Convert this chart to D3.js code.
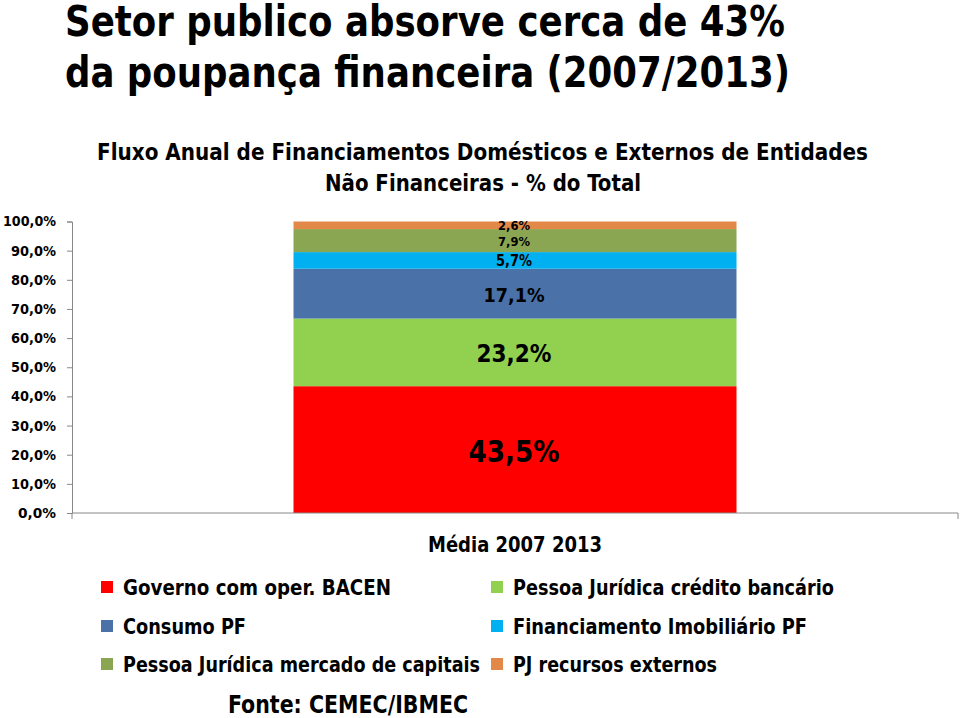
<!DOCTYPE html>
<html><head><meta charset="utf-8">
<script src="https://cdn.jsdelivr.net/npm/d3@7"></script>
<style>
body{margin:0;background:#fff;}
svg text{font-family:"DejaVu Sans Condensed","DejaVu Sans","Liberation Sans",sans-serif;font-weight:bold;fill:#000;}
</style></head>
<body><svg id="c" width="960" height="718"></svg>
<script>
const categories = ["Média 2007 2013"];
const seriesNames = ["Governo com oper. BACEN","Pessoa Jurídica crédito bancário","Consumo PF","Financiamento Imobiliário PF","Pessoa Jurídica mercado de capitais","PJ recursos externos"];
const seriesValues = [43.5, 23.2, 17.1, 5.7, 7.9, 2.6];
const yTicks = [0,10,20,30,40,50,60,70,80,90,100];

const colors = ["#FF0000","#92D050","#4A72A8","#00B0F0","#8BA652","#E2894A"];
const labelSizes = [30, 25, 20, 15, 13, 12];
const labelWidths = [91, 75, 61, 36, 32, 32];
const legendWidths = [268, 321, 123, 294, 357, 204];

// narrow-font fitting (reference uses a condensed face)
function fit(sel, w){ sel.attr("textLength", w).attr("lengthAdjust","spacingAndGlyphs"); return sel; }

const loc = d3.formatLocale({decimal:",",thousands:".",grouping:[3],currency:["R$",""]});
const f1 = loc.format(".1f");

const svg = d3.select("#c");
const x = d3.scaleBand().domain(categories).range([72,958]).paddingInner(0).paddingOuter(0.5);
const y = d3.scaleLinear().domain([0,100]).range([513,221.5]);

// titles
fit(svg.append("text").attr("x",65).attr("y",36).style("font-size","43px").text("Setor publico absorve  cerca de 43%"),720);
fit(svg.append("text").attr("x",65).attr("y",87).style("font-size","43px").text("da poupança financeira (2007/2013)"),725);
fit(svg.append("text").attr("x",97).attr("y",160).style("font-size","23px").text("Fluxo Anual de Financiamentos Domésticos e Externos de Entidades"),771);
fit(svg.append("text").attr("x",325).attr("y",191).style("font-size","23px").text("Não Financeiras - % do Total"),316);

// y axis
const yAxis = d3.axisLeft(y).tickValues(yTicks).tickSize(5).tickFormat(d=>f1(d)+"%");
const gy = svg.append("g").attr("transform","translate(72,0)").call(yAxis);
gy.select(".domain").attr("stroke","#888");
gy.selectAll(".tick line").attr("stroke","#888");
gy.selectAll(".tick text").attr("x",-16).style("font-size","14px").style("font-family",null).attr("fill","#000")
  .each(function(d){ fit(d3.select(this), d===100?53:(d===0?38:45)); });

// stacked
let acc = 0;
const stacked = seriesValues.map((v,i)=>{const s={i,v,y0:acc,y1:acc+v};acc+=v;return s;});
const cat = categories[0];
svg.append("g").selectAll("rect").data(stacked).join("rect")
  .attr("x",x(cat)).attr("width",x.bandwidth())
  .attr("y",d=>y(d.y1)).attr("height",d=>y(d.y0)-y(d.y1))
  .attr("fill",d=>colors[d.i]);
svg.append("g").selectAll("text").data(stacked).join("text")
  .attr("x",x(cat)+x.bandwidth()/2 - 1).attr("y",d=>y((d.y0+d.y1)/2) + (d.i===0?2:1))
  .attr("text-anchor","middle").attr("dominant-baseline","central")
  .style("font-size",d=>labelSizes[d.i]+"px")
  .attr("textLength",d=>labelWidths[d.i]).attr("lengthAdjust","spacingAndGlyphs")
  .text(d=>f1(d.v)+"%");

// x axis
const xAxis = d3.axisBottom(x).tickSize(0).tickPadding(14);
const gx = svg.append("g").attr("transform","translate(0,513)").call(xAxis);
gx.select(".domain").attr("stroke","#888").attr("d","M72,0V6M72,0H958V6");
gx.selectAll(".tick text").attr("y",null).attr("dy",null).attr("transform","translate(0,39)").style("font-size","21px").style("font-family",null).attr("fill","#000")
  .each(function(){ fit(d3.select(this),174); });

// legend
const lg = svg.append("g");
seriesNames.forEach((n,i)=>{
  const col = i%2, row = Math.floor(i/2);
  const lx = col===0?101:491, ly = [587,626,664][row];
  lg.append("rect").attr("x",lx).attr("y",ly-6).attr("width",12).attr("height",12).attr("fill",colors[i]);
  fit(lg.append("text").attr("x",lx+22).attr("y",ly+1).attr("dominant-baseline","central").style("font-size","21px").text(n), legendWidths[i]);
});
fit(svg.append("text").attr("x",228).attr("y",705).attr("dominant-baseline","central").style("font-size","24px").text("Fonte: CEMEC/IBMEC"),240);
</script></body></html>
